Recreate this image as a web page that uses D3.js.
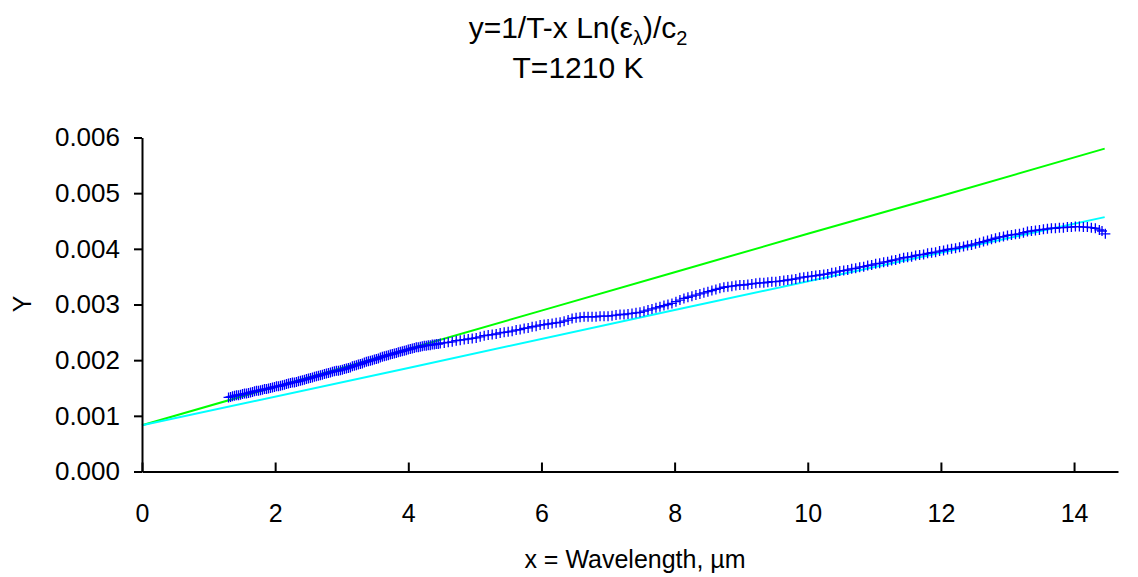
<!DOCTYPE html>
<html>
<head>
<meta charset="utf-8">
<script src="https://cdn.jsdelivr.net/npm/d3@7"></script>
<style>
  body { margin: 0; background: #fff; }
  svg text { font-family: "Liberation Sans", Arial, sans-serif; fill: #000; }
</style>
</head>
<body>
<div id="chart"></div>
<script>
// ---- data ----
var xTicks = [0, 2, 4, 6, 8, 10, 12, 14];
var yTicks = [0, 0.001, 0.002, 0.003, 0.004, 0.005, 0.006];

// measured points: x = wavelength (um), y = 1/T - x Ln(eps)/c2
var dataX = [
  1.30,1.33,1.36,1.39,1.42,1.45,1.48,1.51,1.54,1.57,1.60,1.63,1.66,1.69,1.72,1.75,1.78,1.81,1.84,1.87,
  1.90,1.93,1.96,1.99,2.02,2.05,2.08,2.11,2.14,2.17,2.20,2.23,2.26,2.29,2.32,2.35,2.38,2.41,2.44,2.47,
  2.50,2.53,2.56,2.59,2.62,2.65,2.68,2.71,2.74,2.77,2.80,2.83,2.86,2.89,2.92,2.95,2.98,3.01,3.04,3.07,
  3.10,3.13,3.16,3.19,3.22,3.25,3.28,3.31,3.34,3.37,3.40,3.43,3.46,3.49,3.52,3.55,3.58,3.61,3.64,3.67,
  3.70,3.73,3.76,3.79,3.82,3.85,3.88,3.91,3.94,3.97,4.00,4.03,4.06,4.09,4.12,4.15,4.18,4.21,4.24,4.27,
  4.30,4.33,4.36,4.39,4.42,4.45,4.48,
  4.54,4.60,4.66,4.72,4.78,4.84,4.90,4.96,5.02,5.08,5.14,5.20,5.26,5.32,5.38,5.44,5.50,5.56,5.62,5.68,
  5.74,5.80,5.86,5.92,5.98,6.04,6.10,6.16,6.22,6.28,6.34,6.40,6.46,6.52,6.58,6.64,6.70,6.76,6.82,6.88,
  6.94,7.00,7.06,7.12,7.18,7.24,7.30,7.36,7.42,7.48,7.54,7.60,7.66,7.72,7.78,7.84,7.90,7.96,8.02,8.08,
  8.14,8.20,8.26,8.32,8.38,8.44,8.50,8.56,8.62,8.68,8.74,8.80,8.86,8.92,8.98,9.04,9.10,9.16,9.22,9.28,
  9.34,9.40,9.46,9.52,9.58,9.64,9.70,9.76,9.82,9.88,9.94,10.00,10.06,10.12,10.18,10.24,10.30,10.36,10.42,10.48,
  10.54,10.60,10.66,10.72,10.78,10.84,10.90,10.96,11.02,11.08,11.14,11.20,11.26,11.32,11.38,11.44,11.50,11.56,11.62,11.68,
  11.74,11.80,11.86,11.92,11.98,12.04,12.10,12.16,12.22,12.28,12.34,12.40,12.46,12.52,12.58,12.64,12.70,12.76,12.82,12.88,
  12.94,13.00,13.06,13.12,13.18,13.24,13.30,13.36,13.42,13.48,13.54,13.60,13.66,13.72,13.78,13.84,13.90,13.96,14.02,14.08,
  14.14,14.20,14.26,14.32,14.38,14.42,14.47
];
var dataY = [
  0.00133,0.00134,0.00135,0.00136,0.00137,0.00137,0.00138,0.00139,0.00140,0.00140,0.00141,0.00142,0.00143,0.00144,0.00145,0.00145,0.00146,0.00147,0.00148,0.00148,
  0.00149,0.00150,0.00151,0.00152,0.00153,0.00153,0.00154,0.00155,0.00156,0.00157,0.00158,0.00159,0.00160,0.00160,0.00161,0.00162,0.00163,0.00164,0.00165,0.00166,
  0.00167,0.00168,0.00169,0.00170,0.00171,0.00172,0.00173,0.00174,0.00175,0.00176,0.00177,0.00178,0.00179,0.00180,0.00181,0.00181,0.00182,0.00183,0.00184,0.00185,
  0.00186,0.00187,0.00189,0.00190,0.00191,0.00192,0.00193,0.00194,0.00196,0.00197,0.00198,0.00199,0.00200,0.00201,0.00202,0.00203,0.00205,0.00206,0.00207,0.00208,
  0.00209,0.00210,0.00211,0.00212,0.00213,0.00214,0.00215,0.00216,0.00217,0.00218,0.00219,0.00220,0.00221,0.00222,0.00223,0.00223,0.00224,0.00225,0.00226,0.00226,
  0.00227,0.00227,0.00228,0.00228,0.00229,0.00229,0.00230,
  0.00231,0.00232,0.00233,0.00235,0.00236,0.00237,0.00238,0.00239,0.00240,0.00242,0.00244,0.00245,0.00246,0.00247,0.00249,0.00250,0.00251,0.00252,0.00254,0.00255,
  0.00257,0.00258,0.00260,0.00261,0.00263,0.00264,0.00265,0.00266,0.00267,0.00268,0.00270,0.00272,0.00275,0.00276,0.00277,0.00278,0.00278,0.00278,0.00278,0.00279,
  0.00279,0.00279,0.00280,0.00281,0.00282,0.00282,0.00283,0.00284,0.00285,0.00286,0.00288,0.00290,0.00292,0.00294,0.00296,0.00298,0.00300,0.00302,0.00305,0.00308,
  0.00311,0.00313,0.00315,0.00317,0.00319,0.00321,0.00323,0.00325,0.00327,0.00329,0.00331,0.00332,0.00333,0.00334,0.00335,0.00335,0.00336,0.00337,0.00338,0.00339,
  0.00339,0.00340,0.00341,0.00341,0.00342,0.00343,0.00344,0.00345,0.00346,0.00348,0.00349,0.00350,0.00351,0.00352,0.00353,0.00354,0.00355,0.00357,0.00358,0.00360,
  0.00361,0.00362,0.00364,0.00365,0.00367,0.00368,0.00370,0.00371,0.00373,0.00374,0.00376,0.00377,0.00379,0.00380,0.00382,0.00384,0.00385,0.00386,0.00388,0.00389,
  0.00390,0.00392,0.00393,0.00394,0.00396,0.00397,0.00399,0.00400,0.00401,0.00403,0.00404,0.00406,0.00407,0.00409,0.00411,0.00413,0.00415,0.00417,0.00419,0.00421,
  0.00422,0.00424,0.00425,0.00426,0.00427,0.00429,0.00431,0.00432,0.00433,0.00434,0.00435,0.00436,0.00437,0.00437,0.00438,0.00438,0.00439,0.00439,0.00440,0.00440,
  0.00439,0.00439,0.00438,0.00437,0.00434,0.00432,0.00427
];

// fitted lines
var greenX = [0, 2, 4, 6, 8, 10, 12, 14.46];
var greenY = [0.00083, 0.00152, 0.00220, 0.00289, 0.00358, 0.00427, 0.00495, 0.00580];
var cyanX = [0, 4, 8, 12, 14.46];
var cyanY = [0.00083, 0.00186, 0.00290, 0.00393, 0.00457];

// ---- chart ----
var W = 1138, H = 577;
var svg = d3.select("#chart").append("svg")
  .attr("width", W)
  .attr("height", H);

var xScale = d3.scaleLinear().domain([0, 14.66]).range([142, 1118]);
var yScale = d3.scaleLinear().domain([0, 0.006]).range([471.5, 137.5]);

// title
var title = svg.append("text")
  .attr("x", 578).attr("y", 38)
  .attr("text-anchor", "middle")
  .style("font-size", "30px");
title.append("tspan").text("y=1/T-x Ln(ε");
title.append("tspan").attr("dy", 7).style("font-size", "20px").text("λ");
title.append("tspan").attr("dy", -7).text(")/c");
title.append("tspan").attr("dy", 7).style("font-size", "20px").text("2");

svg.append("text")
  .attr("x", 578).attr("y", 78)
  .attr("text-anchor", "middle")
  .style("font-size", "30px")
  .text("T=1210 K");

// lines
var line = d3.line()
  .x(d => xScale(d[0]))
  .y(d => yScale(d[1]));

svg.append("path")
  .datum(greenX.map((x, i) => [x, greenY[i]]))
  .attr("d", line)
  .style("fill", "none")
  .style("stroke", "#00ff00")
  .style("stroke-width", "2px");

svg.append("path")
  .datum(cyanX.map((x, i) => [x, cyanY[i]]))
  .attr("d", line)
  .style("fill", "none")
  .style("stroke", "#00ffff")
  .style("stroke-width", "2px");

// plus markers
var pts = dataX.map((x, i) => [x, dataY[i]]);
svg.append("g")
  .selectAll("path")
  .data(pts)
  .enter().append("path")
  .attr("transform", d => "translate(" + xScale(d[0]) + "," + yScale(d[1]) + ")")
  .attr("d", "M-5,0H5M0,-5V5")
  .style("fill", "none")
  .style("stroke", "#0000ff")
  .style("stroke-width", "1.3px");

// axes
var xAxis = svg.append("g")
  .attr("transform", "translate(0," + yScale(0) + ")")
  .call(d3.axisBottom(xScale).tickValues(xTicks).tickSizeInner(-9).tickSizeOuter(0).tickPadding(33));
var yAxis = svg.append("g")
  .attr("transform", "translate(" + xScale(0) + ",0)")
  .call(d3.axisLeft(yScale).tickValues(yTicks).tickFormat(d3.format(".3f")).tickSizeInner(8).tickSizeOuter(0).tickPadding(14));

[xAxis, yAxis].forEach(function(a) {
  a.select(".domain").style("stroke", "#000").style("stroke-width", "2px");
  a.selectAll(".tick line").style("stroke", "#000").style("stroke-width", "2px");
  a.selectAll(".tick text")
    .style("font-size", "25px")
    .style("font-family", "'Liberation Sans', Arial, sans-serif");
});
yAxis.selectAll(".tick text").style("font-size", "26px");

// axis titles
svg.append("text")
  .attr("x", 635).attr("y", 568)
  .attr("text-anchor", "middle")
  .style("font-size", "25px")
  .text("x = Wavelength, µm");

svg.append("text")
  .attr("transform", "translate(31,304) rotate(-90)")
  .attr("text-anchor", "middle")
  .style("font-size", "25px")
  .text("Y");
</script>
</body>
</html>
